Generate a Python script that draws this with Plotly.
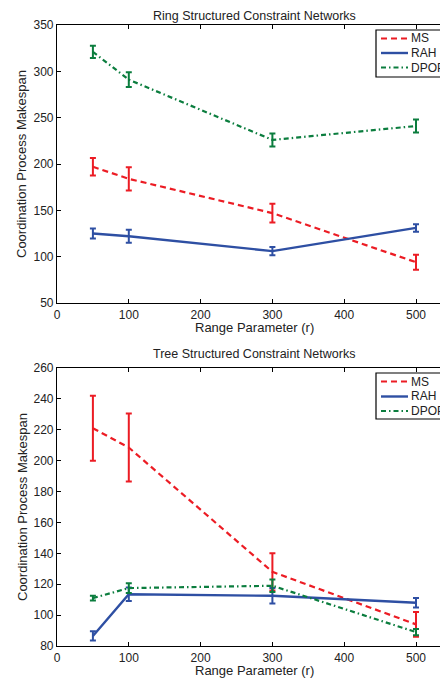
import plotly.graph_objects as go

x_vals = [50, 100, 300, 500]

# Ring structured
ring_ms = [197, 184, 147, 94]
ring_ms_err = [9.5, 12.5, 10, 8]
ring_rah = [125, 122, 106, 131]
ring_rah_err = [5.5, 7, 4.5, 4]
ring_dpop = [321, 291, 226, 241]
ring_dpop_err = [6.5, 8, 7, 7]

# Tree structured
tree_ms = [221, 208.5, 128, 94]
tree_ms_err = [21, 22, 12, 8]
tree_rah = [86.5, 113.5, 112.5, 108]
tree_rah_err = [3, 4.3, 5, 3]
tree_dpop = [111, 117.5, 119, 89]
tree_dpop_err = [1.6, 3.2, 4, 2]

x_ticks = [0, 100, 200, 300, 400, 500]
ring_yticks = [50, 100, 150, 200, 250, 300, 350]
tree_yticks = [80, 100, 120, 140, 160, 180, 200, 220, 240, 260]

names = ["MS", "RAH", "DPOP"]
colors = ["#ec1c24", "#2e4fa3", "#0b7d3e"]
dashes = ["6px,4px", "solid", "5px,3px,1.5px,3px"]
widths = [2.2, 2.4, 2.2]

# page has an 8px body margin: figure is laid out in reference-pixel terms
OFF = 8
W, H = 448 - OFF, 681 - OFF
FONT = "Liberation Sans, Arial, Helvetica, sans-serif"
TXT = "#222"

REF_L, REF_R = 57, 448   # plot area left/right in reference pixels
L = REF_L - OFF

def px_x(p):
    return (p - REF_L) / (REF_R - REF_L)

def px_y(p):
    return (H - (p - OFF)) / H

fig = go.Figure()

def add_series(ys, errs, i, xa, ya):
    fig.add_trace(go.Scatter(
        x=x_vals, y=ys, name=names[i], mode="lines", showlegend=False,
        line=dict(color=colors[i], width=widths[i], dash=dashes[i]),
        error_y=dict(type="data", array=errs, visible=True,
                     color=colors[i], thickness=2, width=3),
        xaxis=xa, yaxis=ya,
    ))

for i, (ys, es) in enumerate([(ring_ms, ring_ms_err), (ring_rah, ring_rah_err), (ring_dpop, ring_dpop_err)]):
    add_series(ys, es, i, "x", "y")
for i, (ys, es) in enumerate([(tree_ms, tree_ms_err), (tree_rah, tree_rah_err), (tree_dpop, tree_dpop_err)]):
    add_series(ys, es, i, "x2", "y2")

axis_common = dict(
    showgrid=False, zeroline=False, showline=True, linecolor="black", linewidth=1.2,
    ticks="inside", ticklen=4, tickcolor="black", tickwidth=1,
    tickfont=dict(family=FONT, size=12, color=TXT),
    automargin=False,
)

xr = [0, (REF_R - REF_L) / 0.718]
fig.update_layout(
    width=W, height=H,
    margin=dict(l=L, r=0, t=0, b=0, autoexpand=False),
    paper_bgcolor="white", plot_bgcolor="white",
    font=dict(family=FONT, size=12, color=TXT),
    showlegend=False,
    xaxis=dict(domain=[0, 1], range=xr, tickvals=x_ticks, anchor="y", mirror="ticks", **axis_common),
    yaxis=dict(domain=[px_y(303), px_y(25)], range=[50, 350], tickvals=ring_yticks, anchor="x", **axis_common),
    xaxis2=dict(domain=[0, 1], range=xr, tickvals=x_ticks, anchor="y2", mirror="ticks", **axis_common),
    yaxis2=dict(domain=[px_y(646), px_y(368)], range=[80, 260], tickvals=tree_yticks, anchor="x2", **axis_common),
)

# legends (box, line samples, labels)
def add_legend(top, bottom, rows):
    fig.add_shape(type="rect", xref="paper", yref="paper",
                  x0=px_x(376), x1=px_x(470), y0=px_y(bottom), y1=px_y(top),
                  line=dict(color="black", width=1.2), fillcolor="white", layer="above")
    for i, ry in enumerate(rows):
        fig.add_shape(type="line", xref="paper", yref="paper",
                      x0=px_x(381), x1=px_x(408), y0=px_y(ry), y1=px_y(ry),
                      line=dict(color=colors[i], width=widths[i], dash=dashes[i]), layer="above")
        fig.add_annotation(text=names[i], x=px_x(409), y=px_y(ry), xref="paper", yref="paper",
                           showarrow=False, xanchor="left", yanchor="middle",
                           font=dict(family=FONT, size=12, color=TXT))

add_legend(30, 77, [38.5, 53, 67.5])
add_legend(373, 419, [381.5, 396.5, 411])

cx = px_x(254)
# top title: as high as the figure allows
fig.add_annotation(text="Ring Structured Constraint Networks", x=cx, y=1, xref="paper", yref="paper",
                   showarrow=False, xanchor="center", yanchor="top", borderpad=0,
                   font=dict(family=FONT, size=12.5, color=TXT))
ann = [
    ("Range Parameter (r)", cx, px_y(327), 13, 0),
    ("Tree Structured Constraint Networks", cx, px_y(354), 12.5, 0),
    ("Range Parameter (r)", cx, px_y(670), 13, 0),
    ("Coordination Process Makespan", px_x(22), px_y(164), 13, -90),
    ("Coordination Process Makespan", px_x(22), px_y(507), 13, -90),
]
for text, ax_, ay_, sz, ang in ann:
    fig.add_annotation(text=text, x=ax_, y=ay_, xref="paper", yref="paper",
                       showarrow=False, textangle=ang, xanchor="center", yanchor="middle",
                       font=dict(family=FONT, size=sz, color=TXT))

fig.write_html("out.html")
